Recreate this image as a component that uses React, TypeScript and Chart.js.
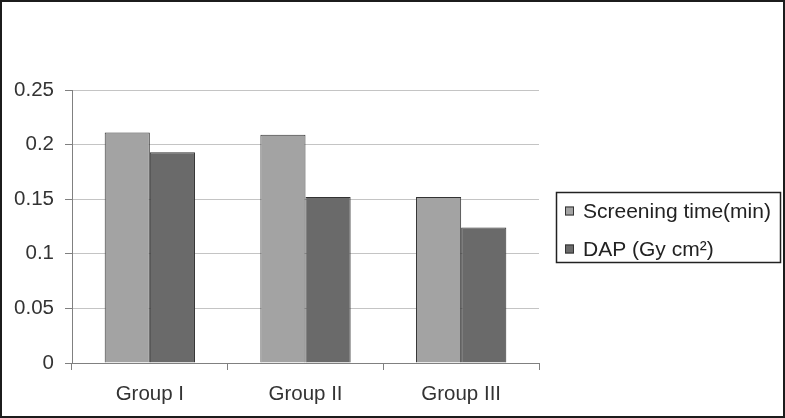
import React, { useEffect, useRef } from "react";
import { Chart, registerables } from "chart.js";

Chart.register(...registerables);

const CATEGORIES = ["Group I", "Group II", "Group III"];
const SCREENING_TIME = [0.211, 0.209, 0.152];
const DAP = [0.193, 0.152, 0.124];
const SERIES_NAMES = ["Screening time(min)", "DAP (Gy cm\u00B2)"];
const Y_TICKS = [0, 0.05, 0.1, 0.15, 0.2, 0.25];
const Y_TICK_LABELS = ["0", "0.05", "0.1", "0.15", "0.2", "0.25"];

const FONT = "'Liberation Sans', Arial, sans-serif";
const LIGHT = "#a3a3a3";
const DARK = "#6a6a6a";
const EDGE = "#333333";

const boxLegend = {
  id: "boxLegend",
  afterDraw(chart: any) {
    const { ctx, chartArea } = chart;
    const cy = (chartArea.top + chartArea.bottom) / 2;
    const x0 = chartArea.right + 17;
    const w = 224;
    const h = 70;
    const y0 = Math.round(cy - h / 2);
    ctx.save();
    ctx.fillStyle = "#ffffff";
    ctx.fillRect(x0, y0, w, h);
    ctx.strokeStyle = "#222";
    ctx.lineWidth = 1.5;
    ctx.strokeRect(x0 + 0.5, y0 + 0.5, w, h);
    ctx.font = `21px ${FONT}`;
    ctx.textBaseline = "middle";
    chart.data.datasets.forEach((ds: any, i: number) => {
      const yc = y0 + 19 + i * 38;
      ctx.fillStyle = ds.backgroundColor;
      ctx.fillRect(x0 + 9, yc - 4.5, 9, 9);
      ctx.strokeStyle = EDGE;
      ctx.lineWidth = 1;
      ctx.strokeRect(x0 + 9.5, yc - 4, 8, 8);
      ctx.fillStyle = "#222";
      ctx.fillText(ds.label, x0 + 27, yc + 1);
    });
    ctx.restore();
  },
};

export default function App() {
  const ref = useRef<HTMLCanvasElement | null>(null);
  useEffect(() => {
    if (!ref.current) return;
    const chart = new Chart(ref.current, {
      type: "bar",
      data: {
        labels: CATEGORIES,
        datasets: [
          {
            label: SERIES_NAMES[0],
            data: SCREENING_TIME,
            backgroundColor: LIGHT,
            borderColor: EDGE,
            borderWidth: 1,
          },
          {
            label: SERIES_NAMES[1],
            data: DAP,
            backgroundColor: DARK,
            borderColor: EDGE,
            borderWidth: 1,
          },
        ],
      },
      options: {
        animation: false,
        responsive: true,
        maintainAspectRatio: false,
        devicePixelRatio: 1,
        layout: { padding: { left: 12, top: 88, right: 244, bottom: 9 } },
        datasets: { bar: { categoryPercentage: 0.58, barPercentage: 1 } },
        plugins: {
          legend: { display: false },
          tooltip: { enabled: false },
          title: { display: false },
        },
        scales: {
          x: {
            afterFit: (scale: any) => {
              scale.height = 44;
            },
            grid: {
              display: true,
              offset: true,
              color: (c: any) => (c.index === CATEGORIES.length ? "#c4c4c4" : "rgba(0,0,0,0)"),
              tickColor: "#808080",
              tickLength: 7,
            },
            border: { display: true, color: "#808080", width: 1 },
            ticks: {
              color: "#333",
              padding: 12,
              font: { family: FONT, size: 20.5 },
            },
          },
          y: {
            min: 0,
            max: 0.25,
            afterFit: (scale: any) => {
              scale.width = 58;
            },
            afterBuildTicks: (scale: any) => {
              scale.ticks = Y_TICKS.map((v) => ({ value: v }));
            },
            grid: {
              color: (c: any) => (c.tick && c.tick.value === 0 ? "#808080" : "#c4c4c4"),
              tickColor: "#808080",
              tickLength: 7,
            },
            border: { display: true, color: "#808080", width: 1 },
            ticks: {
              color: "#333",
              padding: 11,
              font: { family: FONT, size: 20.5 },
              callback: (v: any) => {
                const i = Y_TICKS.findIndex((t) => Math.abs(t - Number(v)) < 1e-9);
                return i >= 0 ? Y_TICK_LABELS[i] : "";
              },
            },
          },
        },
      },
      plugins: [boxLegend],
    });
    return () => chart.destroy();
  }, []);

  return (
    <div
      style={{
        position: "absolute",
        left: 0,
        top: 0,
        width: 785,
        height: 418,
        boxSizing: "border-box",
        border: "2px solid #1c1c1c",
        background: "#fff",
      }}
    >
      <div style={{ position: "relative", width: 781, height: 414 }}>
        <canvas ref={ref} />
      </div>
    </div>
  );
}
